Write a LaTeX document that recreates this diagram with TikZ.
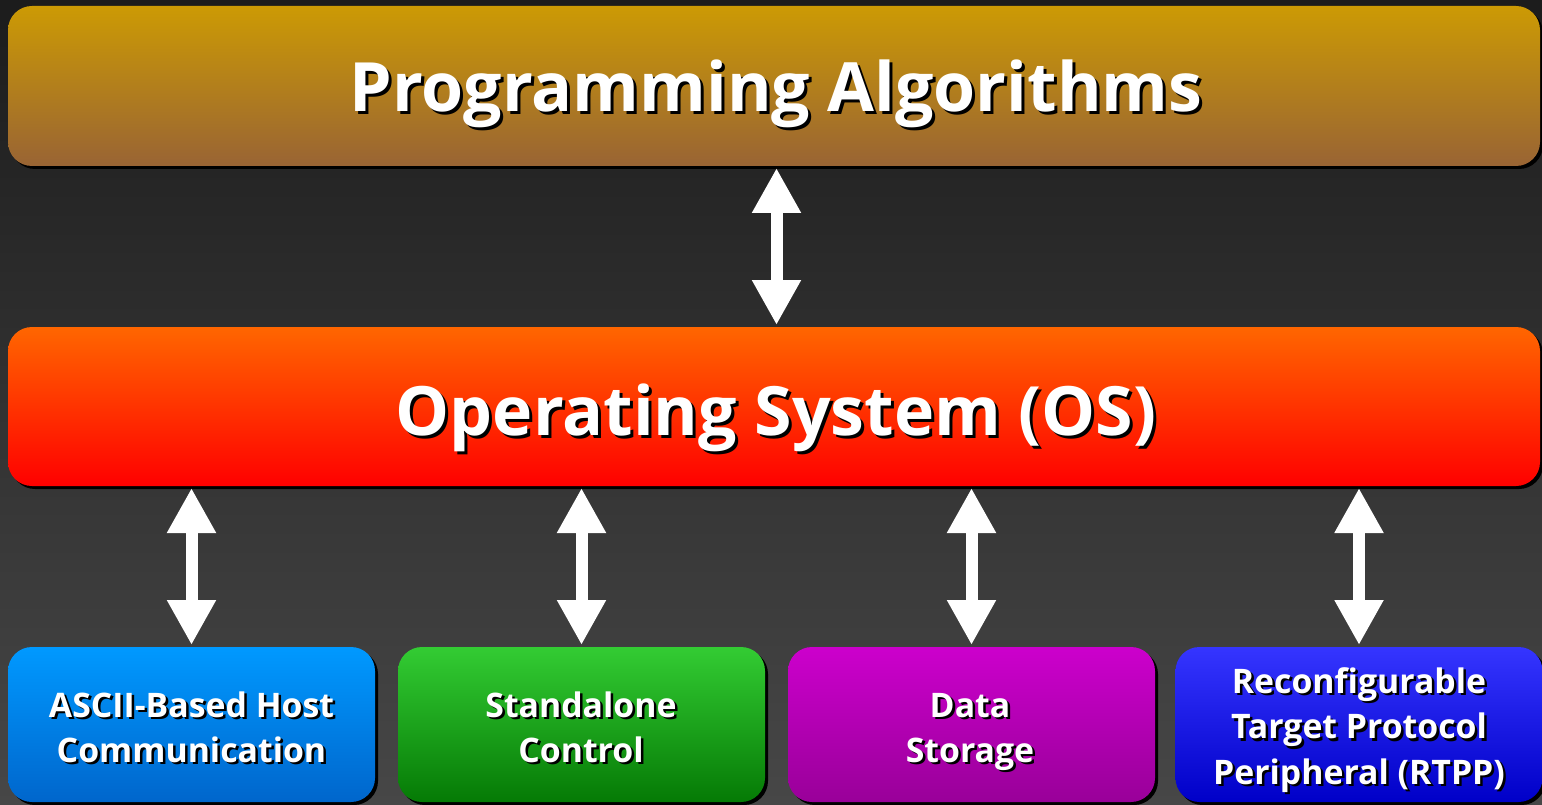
\documentclass[tikz,border=0pt]{standalone}
\usepackage{fontspec}
\setmainfont{Open Sans}
\usetikzlibrary{arrows.meta,shadows}
\definecolor{bgT}{HTML}{1C1C1C}
\definecolor{bgB}{HTML}{474747}
\definecolor{goldT}{HTML}{CC9A04}
\definecolor{goldB}{HTML}{996434}
\definecolor{osT}{HTML}{FF6600}
\definecolor{osB}{HTML}{FF0000}
\definecolor{bluT}{HTML}{0099FF}
\definecolor{bluB}{HTML}{0066CC}
\definecolor{grnT}{HTML}{33CC33}
\definecolor{grnB}{HTML}{057A05}
\definecolor{magT}{HTML}{CC00CC}
\definecolor{magB}{HTML}{990099}
\definecolor{indT}{HTML}{3535FF}
\definecolor{indB}{HTML}{0000C8}
\newcommand\stx[2][2.5pt]{\leavevmode\rlap{\kern#1\raisebox{-#1}{\color{black}#2}}#2}
\begin{document}
\begin{tikzpicture}[x=1pt,y=-1pt,
  box/.style={rectangle, rounded corners=24pt, inner sep=0pt, outer sep=0pt,
    drop shadow={shadow xshift=3pt, shadow yshift=-3pt, fill=black, opacity=1}},
  wide/.style={box, minimum width=1532pt},
  cell/.style={box, minimum width=367pt, minimum height=155pt},
  big/.style={text=white, font=\fontsize{68}{68}\selectfont\bfseries, anchor=base, inner sep=0pt},
  small/.style={text=white, font=\fontsize{33.8}{34}\selectfont\bfseries, anchor=base, inner sep=0pt},
  link/.style={white, line width=12pt,
    {Triangle[width=46pt,length=45pt]}-{Triangle[width=46pt,length=45pt]},
    shorten <=2pt, shorten >=2pt}]
\useasboundingbox (0,0) rectangle (1542,805);
\shade[top color=bgT, bottom color=bgB] (0,0) rectangle (1542,805);

% boxes
\node[wide, minimum height=160pt, top color=goldT, bottom color=goldB] (alg) at (774,86) {};
\node[wide, minimum height=159pt, top color=osT, bottom color=osB] (os) at (774,406.5) {};
\node[cell, top color=bluT, bottom color=bluB] (host) at (191.5,724.5) {};
\node[cell, top color=grnT, bottom color=grnB] (ctrl) at (581.5,724.5) {};
\node[cell, top color=magT, bottom color=magB] (data) at (971.5,724.5) {};
\node[cell, top color=indT, bottom color=indB] (rtpp) at (1359,724.5) {};

% texts
\node[big] (algT) at (776,112) {\stx[3pt]{Programming Algorithms}};
\node[big] (osT) at (776,435) {\stx[3pt]{Operating System (OS)}};
\node[small] (hostA) at (191.5,717) {\stx{ASCII-Based Host}};
\node[small] (hostB) at (191.5,762) {\stx{Communication}};
\node[small] (ctrlA) at (581,717) {\stx{Standalone}};
\node[small] (ctrlB) at (581,762) {\stx{Control}};
\node[small] (dataA) at (970,717) {\stx{Data}};
\node[small] (dataB) at (970,762) {\stx{Storage}};
\node[small] (rtppA) at (1359,693) {\stx{Reconfigurable}};
\node[small] (rtppB) at (1359,738.5) {\stx{Target Protocol}};
\node[small] (rtppC) at (1359,784) {\stx{Peripheral (RTPP)}};

% connectors
\draw[link] ([xshift=2.5pt]alg.south) -- ([xshift=2.5pt]alg.south |- os.north);
\draw[link] (host.north) -- (host.north |- os.south);
\draw[link] (ctrl.north) -- (ctrl.north |- os.south);
\draw[link] (data.north) -- (data.north |- os.south);
\draw[link] (rtpp.north) -- (rtpp.north |- os.south);
\end{tikzpicture}
\end{document}
